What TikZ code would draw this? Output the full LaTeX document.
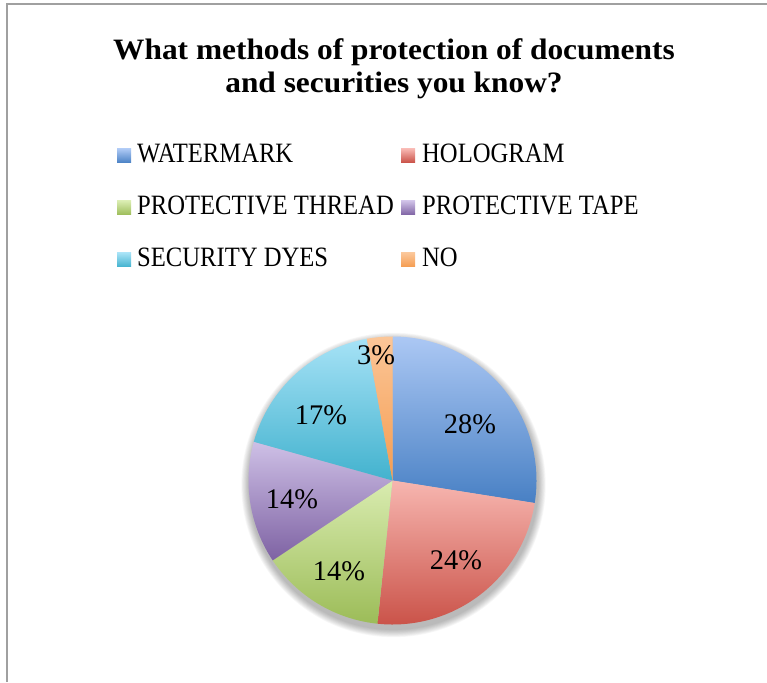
\documentclass[tikz,border=0pt]{standalone}
\usepackage{fontspec}
\setmainfont{Liberation Serif}
\newfontfamily\legfont{Liberation Serif}[FakeStretch=0.88]
\newfontfamily\titfont{Liberation Serif}[FakeStretch=1.06]
\definecolor{framegray}{RGB}{160,160,160}
\definecolor{wmT}{RGB}{172,200,244}\definecolor{wmB}{RGB}{72,128,196}
\definecolor{hoT}{RGB}{247,182,176}\definecolor{hoB}{RGB}{200,78,68}
\definecolor{thT}{RGB}{217,236,176}\definecolor{thB}{RGB}{156,188,88}
\definecolor{taT}{RGB}{206,192,230}\definecolor{taB}{RGB}{126,98,163}
\definecolor{dyT}{RGB}{166,226,246}\definecolor{dyB}{RGB}{66,178,206}
\definecolor{noT}{RGB}{251,198,152}\definecolor{noB}{RGB}{245,156,80}
\tikzset{
  legtext/.style={anchor=base west,inner sep=0pt,font=\legfont\fontsize{28}{32}\selectfont},
  pct/.style={anchor=center,inner sep=0pt,font=\fontsize{28.4}{32}\selectfont},
  titletext/.style={anchor=base,inner sep=0pt,font=\titfont\bfseries\fontsize{29.6}{34}\selectfont}
}
\begin{document}
\begin{tikzpicture}[x=1pt,y=1pt]
\useasboundingbox (0,0) rectangle (767,682);
\draw[framegray,line width=2pt] (7,0) -- (7,678) -- (767,678);
% title
\node[titletext] (t1) at (394,622.5) {What methods of protection of documents};
\node[titletext] (t2) at (394,589.3) {and securities you know?};
% legend
\def\sq#1#2#3#4{\shade[top color=#3,bottom color=#4] (#1,#2) rectangle ++(14,14);}
\sq{117}{519}{wmT}{wmB}\node[legtext] (l1) at (137,519) {WATERMARK};
\sq{401}{519}{hoT}{hoB}\node[legtext] (l2) at (422,519) {HOLOGRAM};
\sq{117}{467}{thT}{thB}\node[legtext] (l3) at (137,467) {PROTECTIVE THREAD};
\sq{401}{467}{taT}{taB}\node[legtext] (l4) at (422,467) {PROTECTIVE TAPE};
\sq{117}{415}{dyT}{dyB}\node[legtext] (l5) at (137,415) {SECURITY DYES};
\sq{401}{415}{noT}{noB}\node[legtext] (l6) at (422,415) {NO};
% pie shadow
\def\R{144}
\foreach \i in {0,...,9}
  \fill[black,opacity=0.03] (393.5,197) circle ({\R+1+\i*0.8});
\coordinate (c) at (392.5,201.5);
\def\slice#1#2#3#4{\shade[top color=#3,bottom color=#4] (c) -- ++(#1:\R) arc[start angle=#1,end angle=#2,radius=\R] -- cycle;}
\slice{90}{-9}{wmT}{wmB}
\slice{-9}{-96}{hoT}{hoB}
\slice{-96}{-146.3}{thT}{thB}
\slice{-146.3}{-195.6}{taT}{taB}
\slice{-195.6}{-259.7}{dyT}{dyB}
\slice{-259.7}{-270}{noT}{noB}
% labels
\node[pct] (p1) at (470,258) {28\%};
\node[pct] (p2) at (456,122) {24\%};
\node[pct] (p3) at (339,111) {14\%};
\node[pct] (p4) at (292,183) {14\%};
\node[pct] (p5) at (321,267) {17\%};
\node[pct] (p6) at (376,327) {3\%};
\end{tikzpicture}
\end{document}
